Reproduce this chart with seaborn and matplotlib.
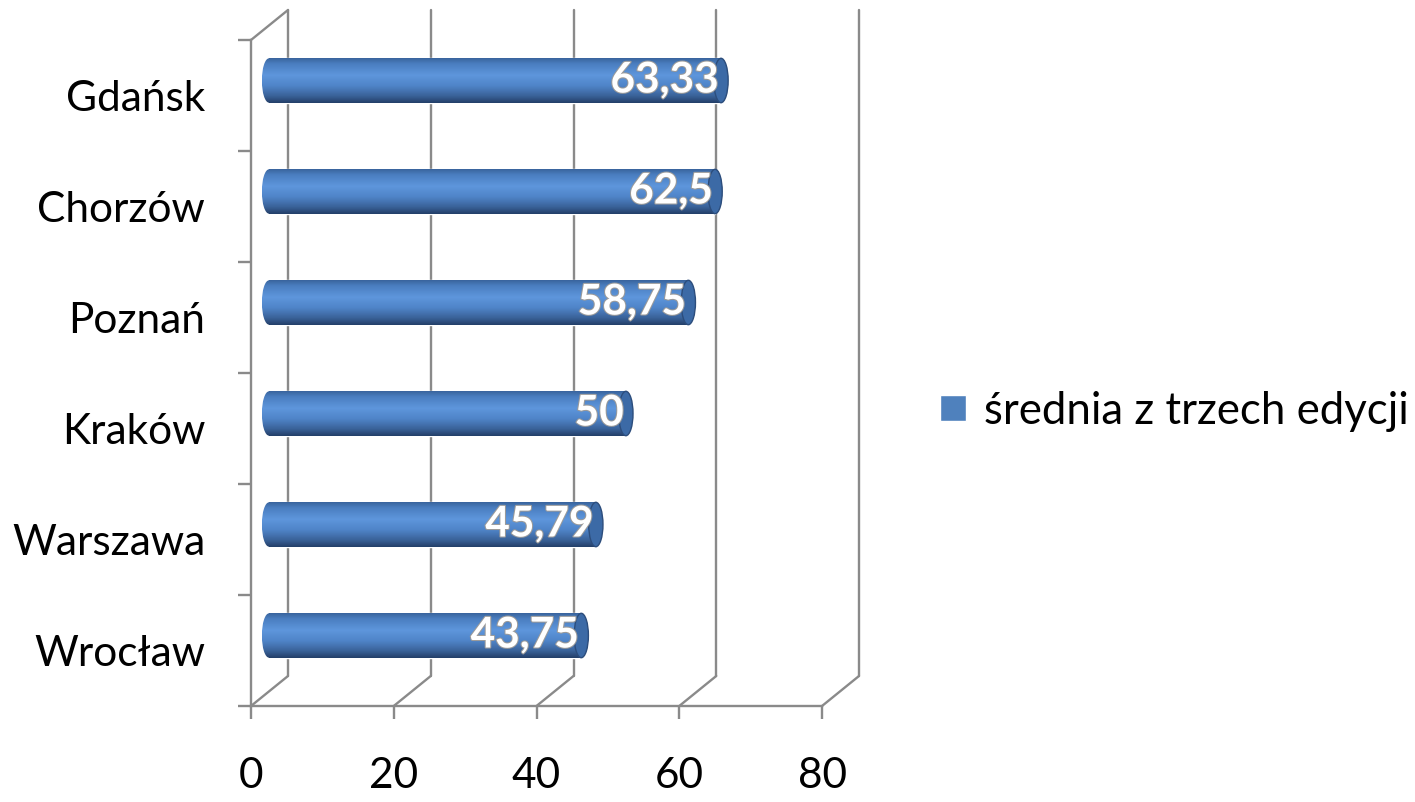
import matplotlib
matplotlib.use('Agg')
import matplotlib.pyplot as plt
import matplotlib.transforms as mtransforms
import matplotlib.patheffects as pe
from matplotlib.patches import Ellipse
from matplotlib.lines import Line2D
from matplotlib.colors import LinearSegmentedColormap
import numpy as np
import pandas as pd
import seaborn as sns

# dane
cities = ['Gdańsk', 'Chorzów', 'Poznań', 'Kraków', 'Warszawa', 'Wrocław']
values = [63.33, 62.5, 58.75, 50, 45.79, 43.75]
value_labels = ['63,33', '62,5', '58,75', '50', '45,79', '43,75']
series_name = 'średnia z trzech edycji'
x_ticks = [0, 20, 40, 60, 80]

sns.set_style('white')
plt.rcParams['font.family'] = ['Lato', 'DejaVu Sans']
plt.rcParams['text.color'] = 'black'
plt.rcParams['xtick.labelcolor'] = 'black'
plt.rcParams['ytick.labelcolor'] = 'black'

df = pd.DataFrame({'miasto': cities, 'wartosc': values, 'seria': series_name})

W, H = 1415, 802
fig = plt.figure(figsize=(W / 100, H / 100), dpi=100)
ax = fig.add_axes([251 / W, (H - 706) / H, 571 / W, 666 / H])

sns.barplot(data=df, x='wartosc', y='miasto', hue='seria', palette=['#4f81bd'],
            saturation=1, width=0.4, orient='h', errorbar=None, ax=ax,
            legend=True, zorder=2)

ax.set_xlim(0, 80)
ax.set_ylim(len(cities) - 0.5, -0.5)

grid_col = '#8a8a8a'
lw = 1.7
fs = 30.5

# osie przednie
for side in ['top', 'right']:
    ax.spines[side].set_visible(False)
for side in ['left', 'bottom']:
    ax.spines[side].set_color(grid_col)
    ax.spines[side].set_linewidth(lw)

ax.set_xticks(x_ticks)
ax.set_xticklabels([str(t) for t in x_ticks])
ax.set_yticks(np.arange(-0.5, len(cities)), labels=[''] * (len(cities) + 1))
ax.set_yticks(np.arange(len(cities)), labels=cities, minor=True)
ax.tick_params(axis='x', which='major', length=9, width=lw, color=grid_col,
               labelsize=fs, pad=28, direction='out', bottom=True,
               labelcolor='black')
ax.tick_params(axis='y', which='major', length=9.5, width=lw, color=grid_col,
               direction='out', left=True)
ax.tick_params(axis='y', which='minor', length=0, labelsize=fs, pad=33,
               labelcolor='black')
ax.set_xlabel('')
ax.set_ylabel('')

# przesuniecia perspektywy (w calach)
back_off = mtransforms.ScaledTranslation(0.37, 0.30, fig.dpi_scale_trans)
bar_off = mtransforms.ScaledTranslation(0.18, 0.15, fig.dpi_scale_trans)
back_tr = ax.transData + back_off
bar_tr = ax.transData + bar_off

y_lo, y_hi = len(cities) - 0.5, -0.5
for t in x_ticks:
    ax.plot([t, t], [y_lo, y_hi], color=grid_col, lw=lw, transform=back_tr,
            zorder=0.5, clip_on=False)
    p0 = ax.transData.transform((t, y_lo))
    ax.add_line(Line2D([p0[0], p0[0] + 37], [p0[1], p0[1] + 30], color=grid_col,
                       lw=lw, transform=mtransforms.IdentityTransform(),
                       zorder=0.5, clip_on=False))
p0 = ax.transData.transform((0, y_hi))
ax.add_line(Line2D([p0[0], p0[0] + 37], [p0[1], p0[1] + 30], color=grid_col,
                   lw=lw, transform=mtransforms.IdentityTransform(),
                   zorder=0.5, clip_on=False))

# walce
cyl = LinearSegmentedColormap.from_list('cyl', [
    (0.0, '#3a659e'), (0.12, '#4a7ec0'), (0.38, '#5e96dc'),
    (0.62, '#4f84c8'), (0.85, '#3a6298'), (1.0, '#24406a')])
grad = np.linspace(0, 1, 64).reshape(-1, 1)
cap_w = 2.0

bars = [p for p in ax.patches if p.get_width() > 0]
for p in ax.patches:
    if p.get_width() <= 0:
        p.set_visible(False)
for p in bars:
    x0, y0, w, h = p.get_x(), p.get_y(), p.get_width(), p.get_height()
    p.set_transform(bar_tr)
    p.set_clip_on(False)
    im = ax.imshow(grad, cmap=cyl, aspect='auto', origin='upper',
                   extent=(x0, x0 + w, y0 + h, y0), zorder=2.1)
    im.set_transform(bar_tr)
    im.set_clip_path(p)
    left = Ellipse((x0, y0 + h / 2), cap_w, h, transform=bar_tr)
    im2 = ax.imshow(grad, cmap=cyl, aspect='auto', origin='upper',
                    extent=(x0 - cap_w / 2, x0 + 0.1, y0 + h, y0), zorder=2.1)
    im2.set_transform(bar_tr)
    im2.set_clip_path(left)
    right = Ellipse((x0 + w, y0 + h / 2), cap_w, h, transform=bar_tr,
                    facecolor='#3c6aa6', edgecolor='#2c4d7c', lw=1, zorder=2.2,
                    clip_on=False)
    ax.add_patch(right)

ax.set_xlim(0, 80)
ax.set_ylim(len(cities) - 0.5, -0.5)

# etykiety wartosci
for i, (v, lab) in enumerate(zip(values, value_labels)):
    ax.text(v - 0.3, i, lab, ha='right', va='center', color='white',
            fontsize=fs, fontweight='bold', transform=bar_tr, zorder=3,
            path_effects=[pe.withStroke(linewidth=1.5, foreground='#9a9a9a')])

sns.move_legend(ax, 'center left', bbox_to_anchor=(940 / W, 1 - 411 / H),
                bbox_transform=fig.transFigure, frameon=False, title=None,
                fontsize=31.5, handlelength=0.6, handleheight=0.55,
                handletextpad=0.4, borderpad=0, borderaxespad=0)
for txt in ax.get_legend().get_texts():
    txt.set_color('black')

fig.savefig('out.png', dpi=100)
